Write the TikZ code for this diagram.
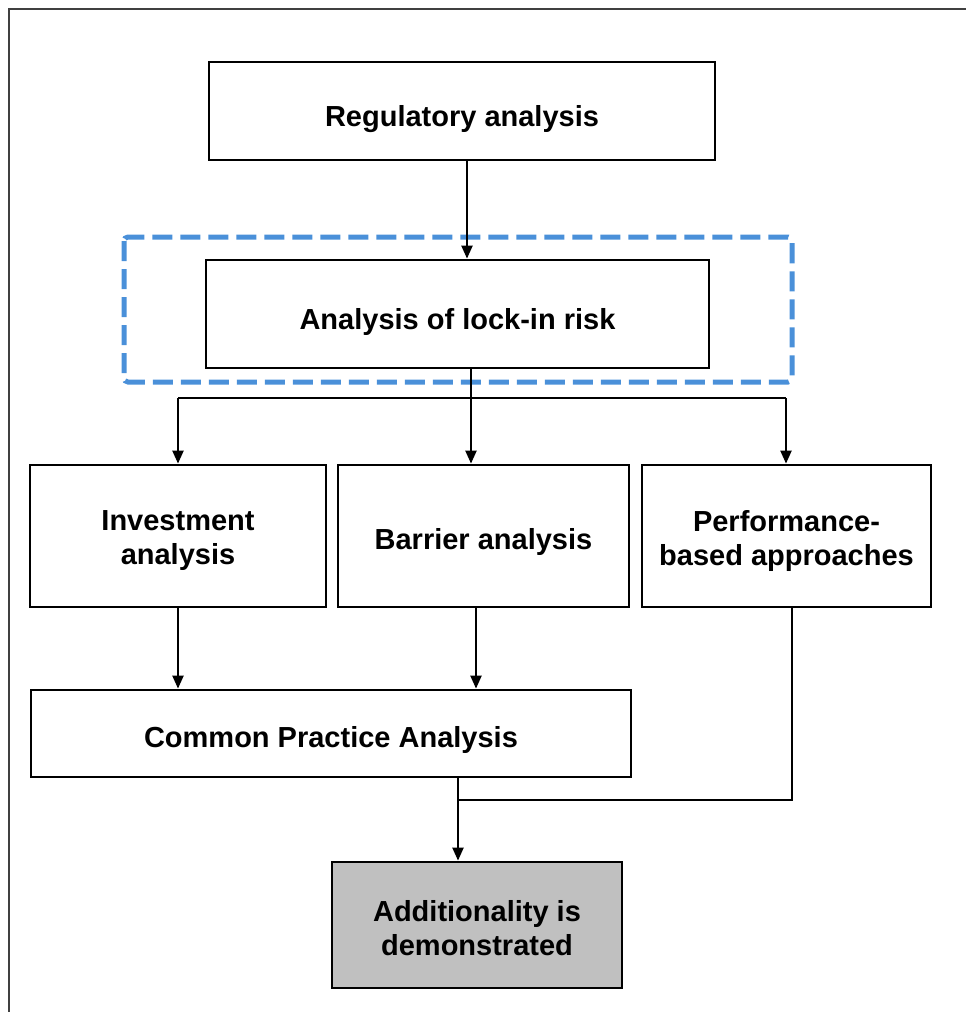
\documentclass[tikz,border=0pt]{standalone}
\usepackage{fontspec}
\setmainfont{Liberation Sans}
\usetikzlibrary{arrows.meta}
\begin{document}
\begin{tikzpicture}[x=1pt,y=-1pt,
  box/.style={draw=black,line width=2.8pt,fill=white,inner sep=0pt},
  lbl/.style={inner sep=0pt,align=center,font=\fontsize{29}{34}\selectfont\bfseries},
  conn/.style={line width=2.2pt,draw=black},
  arr/.style={conn,-{Triangle[length=13pt,width=11pt]}}]
\useasboundingbox (0,0) rectangle (966,1012);
\draw[line width=2pt,draw=black!75] (9,1012) -- (9,9) -- (966,9);
% dashed group
\draw[draw={rgb,255:red,74;green,144;blue,217},line width=5pt,dash pattern=on 20pt off 8pt,rounded corners=4pt] (124,237) rectangle (792,382);
\node[box,minimum width=506pt,minimum height=98pt] (reg) at (462,111) {};
\node[box,minimum width=503pt,minimum height=108pt] (lock) at (457.5,314) {};
\node[box,minimum width=296pt,minimum height=142pt] (inv) at (178,536) {};
\node[box,minimum width=291pt,minimum height=142pt] (bar) at (483.5,536) {};
\node[box,minimum width=289pt,minimum height=142pt] (perf) at (786.5,536) {};
\node[box,minimum width=600pt,minimum height=87pt] (cpa) at (331,733.5) {};
\node[box,fill={rgb,255:red,192;green,192;blue,192},minimum width=290pt,minimum height=126pt] (add) at (477,925) {};
\node[lbl] (regt) at ([yshift=-8pt]reg.center) {Regulatory analysis};
\node[lbl] (lockt) at ([yshift=-8pt]lock.center) {Analysis of lock-in risk};
\node[lbl] (invt) at ([yshift=-5pt]inv.center) {Investment\\analysis};
\node[lbl] (bart) at ([yshift=-6pt]bar.center) {Barrier analysis};
\node[lbl] (perft) at ([yshift=-5pt]perf.center) {Performance-\\based approaches};
\node[lbl] (cpat) at ([yshift=-6pt]cpa.center) {Common Practice Analysis};
\node[lbl] (addt) at ([yshift=-3pt]add.center) {Additionality is\\demonstrated};
% connectors
\coordinate (split) at (471,398);
\coordinate (join) at (458,800);
\draw[arr] (reg.south -| 467,0) -- (lock.north -| 467,0);
\draw[conn] (lock.south -| split) -- (split);
\draw[conn] (178,398) -- (786,398);
\draw[arr] (178,398) -- (inv.north -| 178,0);
\draw[arr] (split) -- (bar.north -| split);
\draw[arr] (786,398) -- (perf.north -| 786,0);
\draw[arr] (inv.south -| 178,0) -- (cpa.north -| 178,0);
\draw[arr] (bar.south -| 476,0) -- (cpa.north -| 476,0);
\draw[conn] (perf.south -| 792,0) |- (join);
\draw[arr] (cpa.south -| join) -- (add.north -| join);
\end{tikzpicture}
\end{document}
